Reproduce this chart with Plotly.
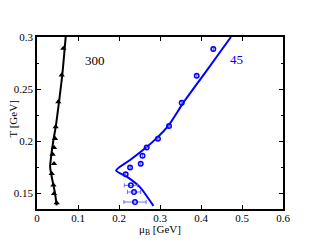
import plotly.graph_objects as go

# Black curve (300) and triangle points
black_line_mu = [0.048, 0.044, 0.036, 0.032, 0.0334, 0.040, 0.0456, 0.0537, 0.062, 0.070]
black_line_T = [0.1385, 0.150, 0.1657, 0.1753, 0.1817, 0.201, 0.2138, 0.2378, 0.265, 0.300]
black_pts_mu = [0.048, 0.0415, 0.040, 0.0358, 0.0415, 0.0382, 0.0415, 0.044, 0.0455, 0.052, 0.0602, 0.0642]
black_pts_T = [0.141, 0.1497, 0.158, 0.169, 0.1785, 0.1875, 0.194, 0.2026, 0.2138, 0.2378, 0.2635, 0.289]

# Blue curve (45) and circle points
blue_line_mu = [0.284, 0.251, 0.219, 0.193, 0.227, 0.2675, 0.292, 0.320, 0.357, 0.405, 0.440, 0.473]
blue_line_T = [0.138, 0.156, 0.166, 0.172, 0.182, 0.1945, 0.203, 0.2147, 0.237, 0.263, 0.282, 0.300]
blue_pts_mu = [0.239, 0.2366, 0.229, 0.2163, 0.227, 0.253, 0.2573, 0.2675, 0.295, 0.322, 0.353, 0.3895, 0.430]
blue_pts_T = [0.1417, 0.1513, 0.1577, 0.1683, 0.1747, 0.1785, 0.1862, 0.194, 0.2025, 0.2147, 0.237, 0.2628, 0.2885]
blue_pts_err = [0.027, 0.016, 0.016, 0, 0, 0, 0, 0, 0, 0, 0, 0, 0]

x_ticks = [0, 0.1, 0.2, 0.3, 0.4, 0.5, 0.6]
x_labels = ["0", "0.1", "0.2", "0.3", "0.4", "0.5", "0.6"]
y_ticks = [0.15, 0.2, 0.25, 0.3]
y_labels = ["0.15", "0.2", "0.25", "0.3"]

FONT = "Liberation Serif"

fig = go.Figure()
fig.add_trace(go.Scatter(x=black_line_mu, y=black_line_T, mode="lines",
                         line=dict(color="black", width=2, shape="spline", smoothing=0.6),
                         showlegend=False, hoverinfo="skip"))
fig.add_trace(go.Scatter(x=black_pts_mu, y=black_pts_T, mode="markers",
                         marker=dict(symbol="triangle-up", size=5.5, color="black"),
                         showlegend=False))
fig.add_trace(go.Scatter(x=blue_line_mu, y=blue_line_T, mode="lines",
                         line=dict(color="#0000ff", width=2, shape="spline", smoothing=0.6),
                         showlegend=False, hoverinfo="skip"))
fig.add_trace(go.Scatter(x=blue_pts_mu, y=blue_pts_T, mode="markers",
                         marker=dict(symbol="circle-open", size=4.5, color="#0000ff",
                                     line=dict(width=1.5, color="#0000ff")),
                         error_x=dict(type="data", array=blue_pts_err, visible=True,
                                      color="#6a6aff", thickness=1, width=2),
                         showlegend=False))

fig.add_annotation(x=0.141, y=0.277, text="300", showarrow=False,
                   font=dict(family=FONT, size=13, color="black"))
fig.add_annotation(x=0.487, y=0.278, text="45", showarrow=False,
                   font=dict(family=FONT, size=13, color="#0000ff"))

# Axis titles as annotations for exact placement
fig.add_annotation(xref="paper", yref="paper", x=0.5, y=0, yshift=-21,
                   xanchor="center", yanchor="middle", showarrow=False,
                   text="μ<sub>B</sub> [GeV]",
                   font=dict(family=FONT, size=11, color="black"))
fig.add_annotation(xref="paper", yref="paper", x=0, y=0.52, xshift=-24,
                   xanchor="center", yanchor="middle", showarrow=False,
                   textangle=-90, text="T [GeV]",
                   font=dict(family=FONT, size=11, color="black"))

axis_common = dict(showgrid=False, zeroline=False, showline=True, linecolor="black",
                   linewidth=1.5, mirror="ticks", ticks="inside", tickcolor="black",
                   ticklen=4, tickwidth=1.2, automargin=False,
                   tickfont=dict(family=FONT, size=11, color="black"))

fig.update_layout(
    width=311, height=239,
    margin=dict(l=29, r=36, t=29, b=38),
    paper_bgcolor="white", plot_bgcolor="white",
    xaxis=dict(range=[0, 0.6], tickvals=x_ticks, ticktext=x_labels,
               ticklabelstandoff=-2, **axis_common),
    yaxis=dict(range=[0.135, 0.3], tickvals=y_ticks, ticktext=y_labels,
               minor=dict(dtick=0.025, tick0=0.15, ticks="inside", ticklen=2.5,
                          tickcolor="black", tickwidth=1.2),
               **axis_common),
)

fig.write_html("out.html")
